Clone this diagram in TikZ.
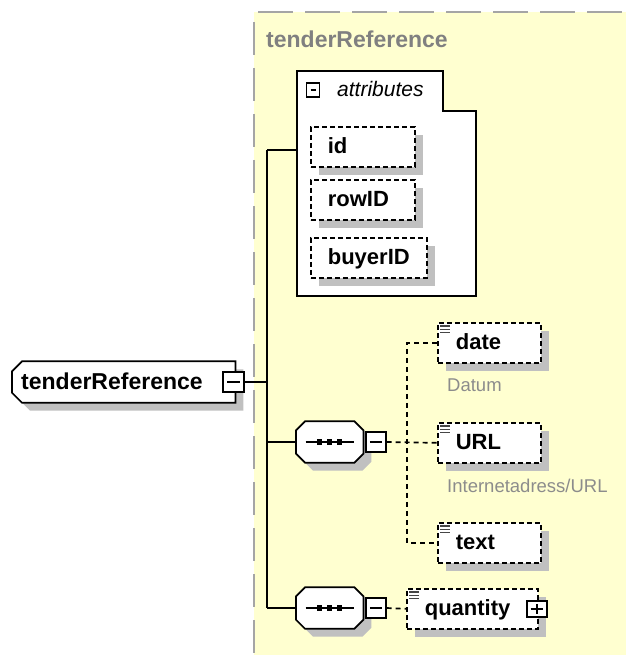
\documentclass[tikz,border=0pt]{standalone}
\usepackage{fontspec}
\setmainfont{Liberation Sans}
\usetikzlibrary{shadows,backgrounds}

\definecolor{zonefill}{RGB}{255,255,208}
\definecolor{zoneline}{RGB}{165,165,165}
\definecolor{shadowgray}{RGB}{192,192,192}
\definecolor{titlegray}{RGB}{128,128,128}
\definecolor{notegray}{RGB}{140,140,140}
\definecolor{icongray}{RGB}{70,70,70}

\tikzset{
    conn/.style={line width=1.7pt},
    dconn/.style={line width=1.7pt, dash pattern=on 5pt off 4pt},
    shadowed/.style={drop shadow={shadow xshift=8pt, shadow yshift=-8pt, opacity=1, fill=shadowgray}},
    elem/.style={draw, line width=1.7pt, dash pattern=on 5pt off 3pt, fill=white, shadowed,
        anchor=north west, minimum height=40pt, inner xsep=18pt, inner ysep=0pt,
        text height=18pt, text depth=4pt, align=left,
        font=\fontsize{22}{24}\selectfont\bfseries},
    attr/.style={elem, inner xsep=17pt},
    rootbox/.style={anchor=west, minimum height=41pt, inner xsep=9pt, inner ysep=0pt,
        text height=18pt, text depth=4pt, align=left,
        font=\fontsize{23}{26}\selectfont\bfseries},
    seqbox/.style={anchor=west, minimum width=67pt, minimum height=41pt, inner sep=0pt},
    minusbox/.style={draw, line width=1.7pt, fill=white, minimum width=20pt, minimum height=20pt, inner sep=0pt,
        path picture={\draw[line width=1.7pt] ([xshift=4pt]path picture bounding box.west) -- ([xshift=-4pt]path picture bounding box.east);}},
    plusbox/.style={minusbox, minimum height=16pt,
        path picture={\draw[line width=1.7pt] ([xshift=4pt]path picture bounding box.west) -- ([xshift=-4pt]path picture bounding box.east)
            ([yshift=-3pt]path picture bounding box.north) -- ([yshift=3pt]path picture bounding box.south);}},
}

\begin{document}
\begin{tikzpicture}[x=1pt, y=-1pt]
    \useasboundingbox (0,0) rectangle (626,655);
    % yellow zone of the type
    \fill[zonefill] (254,12) rectangle (626,655);
    \draw[zoneline, line width=2pt, dash pattern=on 35pt off 12pt] (258,12) -- (626,12);
    \draw[zoneline, line width=2pt, dash pattern=on 33pt off 13pt] (254,22) -- (254,655);
    \node[anchor=base west, inner sep=0pt, text=titlegray, font=\fontsize{23}{26}\selectfont\bfseries] (zoneTitle) at (266,48) {tenderReference};

    % attributes group
    \draw[line width=1.7pt, fill=white] (297,71) -- (443,71) -- (443,111) -- (476,111) -- (476,296) -- (297,296) -- cycle;
    \node[minusbox, minimum width=13pt, minimum height=14pt, line width=1.2pt] (attrMinus) at (313,90) {};
    \node[anchor=base west, inner sep=0pt, font=\fontsize{21}{24}\selectfont\itshape] (attrTitle) at (337,97) {attributes};
    \node[attr, text width=70pt] (id) at (310,126) {id};
    \node[attr, text width=70pt] (rowID) at (310,179) {rowID};
    \node[attr, text width=82pt] (buyerID) at (310,237) {buyerID};
    \coordinate (attrsW) at (297,150);

    % root element
    \node[rootbox, text width=205pt] (root) at (12,382) {tenderReference};
    \begin{scope}[on background layer]
        \draw[conn, fill=white, shadowed] ([yshift=-10pt]root.north west) -- ([xshift=10pt]root.north west)
            -- (root.north east) -- (root.south east) -- ([xshift=10pt]root.south west) -- ([yshift=10pt]root.south west) -- cycle;
    \end{scope}
    \node[minusbox, minimum width=21pt] (rootMinus) at (233.5,382) {};

    % trunk
    \coordinate (trunkTop) at (267,150);
    \coordinate (trunkBot) at (267,608);
    \draw[conn] (rootMinus.east) -- (rootMinus.east -| trunkTop);
    \draw[conn] (trunkTop) -- (trunkBot);
    \draw[conn] (trunkTop) -- (attrsW);

    % sequences
    \node[seqbox] (seqA) at (296,442) {};
    \node[seqbox] (seqB) at (296,608) {};
    \foreach \s in {seqA,seqB} {
        \draw[conn, fill=white, shadowed] ([xshift=9pt]\s.north west) -- ([xshift=-9pt]\s.north east)
            -- ([yshift=-9pt]\s.north east) -- ([yshift=9pt]\s.south east) -- ([xshift=-9pt]\s.south east)
            -- ([xshift=9pt]\s.south west) -- ([yshift=9pt]\s.south west) -- ([yshift=-9pt]\s.north west) -- cycle;
        \draw[conn] (\s.west -| trunkTop) -- (\s.west);
        \draw[conn] ([xshift=-24pt]\s.center) -- ([xshift=24pt]\s.center);
        \foreach \d in {-10,0,10}
            \fill ([xshift=\d pt]\s.center) +(-2.7pt,-2.7pt) rectangle +(2.7pt,2.7pt);
        \node[minusbox, anchor=west, xshift=1.5pt] (\s Minus) at (\s.east) {};
    }

    % child elements
    \node[elem, text width=67pt] (date) at (437,322) {date};
    \node[elem, text width=67pt] (url) at (437,422) {URL};
    \node[elem, text width=67pt] (txt) at (437,522) {text};
    \node[elem, text width=95pt] (qty) at (406,588) {quantity};
    \node[plusbox] (qtyPlus) at ([xshift=-2pt]qty.east) {};
    \foreach \n in {date,url,txt,qty}
        \foreach \k in {0,1,2}
            \draw[icongray, line width=1.2pt] ([xshift=3pt, yshift={-4pt-3.3pt*\k}]\n.north west) -- ++(10,0);

    % notes
    \node[anchor=base west, inner sep=0pt, text=notegray, font=\fontsize{18.5}{20}\selectfont] (dateNote) at (447,391) {Datum};
    \node[anchor=base west, inner sep=0pt, text=notegray, font=\fontsize{18.5}{20}\selectfont] (urlNote) at (447,492) {Internetadress/URL};

    % choice connectors
    \coordinate (fork) at (407,442);
    \draw[dconn] (seqAMinus.east) -- (url.west);
    \draw[dconn] (date.west) -| (fork) |- (txt.west);
    \draw[dconn] (seqBMinus.east) -- (qty.west);
\end{tikzpicture}
\end{document}
